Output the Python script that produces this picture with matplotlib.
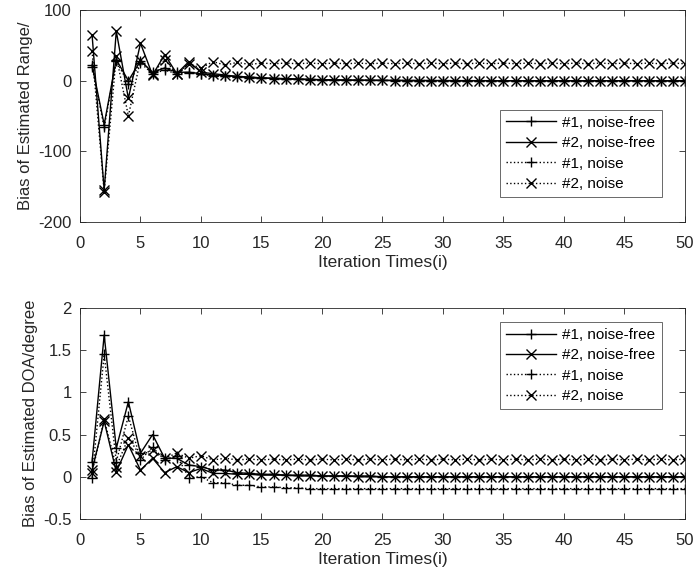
import numpy as np
import matplotlib
matplotlib.use('Agg')
import matplotlib.pyplot as plt

plt.rcParams['font.family'] = ['Liberation Sans', 'DejaVu Sans']

iters = np.arange(1, 51)

# range bias (top)
rng_1_free = [22, -62, 30, 0, 28, 12, 18, 12, 12, 10,
              8, 7, 6, 5, 4, 3.5, 3, 2.5, 2, 1.5,
              1.2, 1, 0.8, 0.6, 0.5, 0.4, 0.3, 0.3, 0.2, 0.2,
              0.1, 0.1, 0.1, 0.1, 0, 0, 0, 0, 0, 0,
              0, 0, 0, 0, 0, 0, 0, 0, 0, 0]
rng_2_free = [65, -155, 70, -25, 53, 8, 37, 10, 27, 12,
              10, 8, 6, 5, 4, 3, 2.5, 2, 1.5, 1.2,
              1, 0.8, 0.6, 0.5, 0.4, 0.3, 0.3, 0.2, 0.2, 0.1,
              0.1, 0.1, 0, 0, 0, 0, 0, 0, 0, 0,
              0, 0, 0, 0, 0, 0, 0, 0, 0, 0]
rng_1_noise = [20, -66, 28, -4, 25, 10, 15, 10, 11, 9,
               7, 6, 5, 4, 3.5, 3, 2.5, 2, 1.5, 1.2,
               1, 0.8, 0.6, 0.5, 0.4, 0.3, 0.2, 0.2, 0.1, 0.1,
               0, 0, 0, 0, 0, 0, 0, 0, 0, 0,
               0, 0, 0, 0, 0, 0, 0, 0, 0, 0]
rng_2_noise = [42, -157, 35, -50, 30, 10, 30, 10, 24, 18,
               27, 22, 26, 23, 25, 24, 25, 24, 25, 24,
               25, 24, 25, 24, 25, 24, 25, 24, 25, 24,
               25, 24, 25, 24, 25, 24, 25, 24, 25, 24,
               25, 24, 25, 24, 25, 24, 25, 24, 25, 24]

# DOA bias (bottom)
doa_1_free = [0.18, 1.68, 0.34, 0.89, 0.28, 0.50, 0.22, 0.22, 0.14, 0.12,
              0.08, 0.08, 0.05, 0.04, 0.03, 0.03, 0.02, 0.02, 0.02, 0.01,
              0.01, 0.01, 0.01, 0.01, 0, 0, 0, 0, 0, 0,
              0, 0, 0, 0, 0, 0, 0, 0, 0, 0,
              0, 0, 0, 0, 0, 0, 0, 0, 0, 0]
doa_2_free = [0.08, 0.66, 0.06, 0.38, 0.08, 0.22, 0.05, 0.12, 0.05, 0.10,
              0.04, 0.04, 0.03, 0.03, 0.02, 0.02, 0.02, 0.01, 0.01, 0.01,
              0.01, 0.01, 0, 0, 0, 0, 0, 0, 0, 0,
              0, 0, 0, 0, 0, 0, 0, 0, 0, 0,
              0, 0, 0, 0, 0, 0, 0, 0, 0, 0]
doa_1_noise = [-0.01, 1.45, 0.18, 0.72, 0.20, 0.35, 0.20, 0.25, -0.01, 0.0,
               -0.07, -0.07, -0.10, -0.10, -0.12, -0.12, -0.13, -0.13, -0.14, -0.14,
               -0.14, -0.14, -0.14, -0.14, -0.14, -0.14, -0.14, -0.14, -0.14, -0.14,
               -0.14, -0.14, -0.14, -0.14, -0.14, -0.14, -0.14, -0.14, -0.14, -0.14,
               -0.14, -0.14, -0.14, -0.14, -0.14, -0.14, -0.14, -0.14, -0.14, -0.14]
doa_2_noise = [0.05, 0.68, 0.12, 0.46, 0.25, 0.32, 0.22, 0.28, 0.22, 0.25,
               0.20, 0.22, 0.20, 0.21, 0.20, 0.21, 0.20, 0.21, 0.20, 0.21,
               0.20, 0.21, 0.20, 0.21, 0.20, 0.21, 0.20, 0.21, 0.20, 0.21,
               0.20, 0.21, 0.20, 0.21, 0.20, 0.21, 0.20, 0.21, 0.20, 0.21,
               0.20, 0.21, 0.20, 0.21, 0.20, 0.21, 0.20, 0.21, 0.20, 0.21]

labels = ['#1, noise-free', '#2, noise-free', '#1, noise', '#2, noise']
styles = [('-', '+'), ('-', 'x'), (':', '+'), (':', 'x')]

fig = plt.figure(figsize=(6.93, 5.79), dpi=100)
ax1 = fig.add_axes([0.1154, 0.6166, 0.873, 0.366])
ax2 = fig.add_axes([0.1154, 0.1036, 0.873, 0.3644])

def draw(ax, series, ylim, yticks, ylabel, legend_loc):
    for vals, (ls, mk), lab in zip(series, styles, labels):
        ax.plot(iters, vals, color='black', linestyle=ls, marker=mk,
                linewidth=1.0, markersize=7.5, markeredgewidth=1.0, label=lab)
    ax.set_xlim(0, 50)
    ax.set_ylim(*ylim)
    ax.set_xticks(range(0, 51, 5))
    ax.set_yticks(yticks)
    ax.tick_params(direction='in', top=True, right=True, length=4,
                   labelsize=12, colors='#262626', width=0.6)
    ax.tick_params(axis='x', pad=10)
    ax.tick_params(axis='y', pad=6)
    for s in ax.spines.values():
        s.set_color('#262626')
        s.set_linewidth(0.6)
    ax.set_xlabel('Iteration Times(i)', fontsize=12.5, color='#262626', labelpad=3)
    ax.set_ylabel(ylabel, fontsize=12, color='#262626', labelpad=4)
    leg = ax.legend(loc='upper left', bbox_to_anchor=legend_loc, fontsize=11,
                    frameon=True, fancybox=False, edgecolor='#262626',
                    handlelength=3.3, handletextpad=0.4, borderaxespad=0,
                    labelspacing=0.42)
    leg.get_frame().set_linewidth(0.6)

draw(ax1, [rng_1_free, rng_2_free, rng_1_noise, rng_2_noise],
     (-200, 100), [-200, -100, 0, 100], 'Bias of Estimated Range/', (0.694, 0.53))
ax1.set_yticklabels(['-200', '-100', '0', '100'])
draw(ax2, [doa_1_free, doa_2_free, doa_1_noise, doa_2_noise],
     (-0.5, 2), [-0.5, 0, 0.5, 1, 1.5, 2], 'Bias of Estimated DOA/degree', (0.694, 0.935))
ax2.set_yticklabels(['-0.5', '0', '0.5', '1', '1.5', '2'])
ax1.set_xticklabels([str(v) for v in range(0, 51, 5)])
ax2.set_xticklabels([str(v) for v in range(0, 51, 5)])

fig.savefig('out.png', dpi=100, facecolor='white')
